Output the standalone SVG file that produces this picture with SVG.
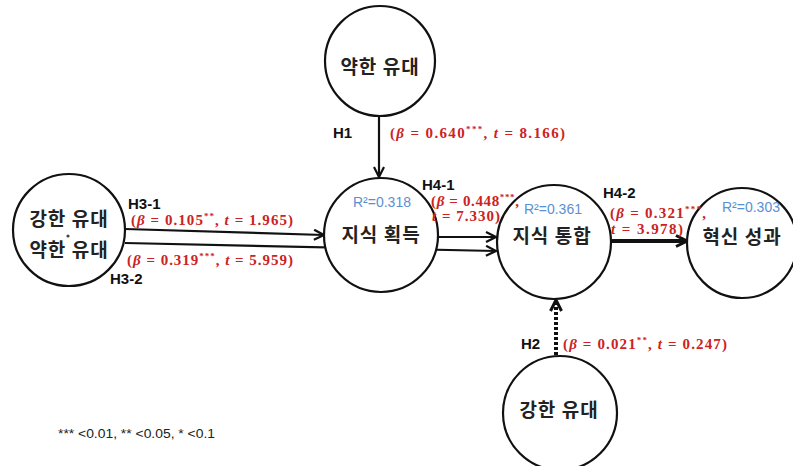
<svg xmlns="http://www.w3.org/2000/svg" width="793" height="466" viewBox="0 0 793 466">
<defs>
<style>
.node{fill:#fff;stroke:#111;stroke-width:2.2}
.lbl{font-family:"Noto Sans CJK KR","Noto Sans",sans-serif;font-weight:bold;font-size:19px;letter-spacing:1px;fill:#222;text-anchor:middle}
.h{font-family:"Liberation Sans",Arial,sans-serif;font-weight:bold;font-size:15px;fill:#111}
.red{font-family:"Liberation Serif","Times New Roman",serif;font-weight:bold;font-size:15px;fill:#cc2222}
.r2{font-family:"Liberation Sans",Arial,sans-serif;font-size:14px;fill:#5b8fd4}
.edge{stroke:#111;stroke-width:2.2;fill:none}
.sup{font-size:9px}
.foot{font-family:"Liberation Sans",Arial,sans-serif;font-size:12px;fill:#222}
</style>
<marker id="ah" viewBox="0 0 12 12" refX="11" refY="6" markerWidth="12" markerHeight="12" markerUnits="userSpaceOnUse" orient="auto">
<path d="M1,1 L11,6 L1,11" fill="none" stroke="#111" stroke-width="2.2"/>
</marker>
<marker id="ahb" viewBox="0 0 14 14" refX="12.5" refY="7" markerWidth="14" markerHeight="14" markerUnits="userSpaceOnUse" orient="auto">
<path d="M1.5,1.5 L12.5,7 L1.5,12.5" fill="none" stroke="#111" stroke-width="3"/>
</marker>
</defs>

<g id="connectors">
<line id="e-h1" class="edge" x1="379" y1="116" x2="379" y2="177" marker-end="url(#ah)"/>
<line id="e-h31" class="edge" x1="125" y1="229" x2="324" y2="235" marker-end="url(#ah)"/>
<line id="e-h32" class="edge" x1="125" y1="243" x2="496" y2="251" marker-end="url(#ah)"/>
<line id="e-h41" class="edge" x1="439" y1="237" x2="496" y2="237" marker-end="url(#ah)"/>
<line id="e-h42" class="edge" style="stroke-width:4" x1="612" y1="241" x2="687" y2="241" marker-end="url(#ahb)"/>
<line id="e-h2" class="edge" style="stroke-width:4;stroke-dasharray:3,2" x1="556" y1="355" x2="556" y2="300" marker-end="url(#ahb)"/>
</g>

<g id="n-weak-top">
<circle class="node" cx="380" cy="61" r="55"/>
<text class="lbl" x="380" y="74">약한 유대</text>
</g>
<g id="n-both">
<circle class="node" cx="69" cy="230" r="56"/>
<text class="lbl" x="69" y="226">강한 유대</text>
<text class="lbl" x="69" y="257">약한 유대</text>
<circle cx="68" cy="236" r="1.6" fill="#444"/>
</g>
<g id="n-acq">
<circle class="node" cx="381" cy="235" r="57"/>
<text class="lbl" x="381" y="242">지식 획득</text>
<text class="r2" x="353" y="207">R²=0.318</text>
</g>
<g id="n-int">
<circle class="node" cx="554" cy="242" r="57"/>
<text class="lbl" x="552" y="243">지식 통합</text>
<text class="r2" x="524" y="214">R²=0.361</text>
</g>
<g id="n-inno">
<circle class="node" cx="742" cy="243" r="55"/>
<text class="lbl" x="742" y="244">혁신 성과</text>
<text class="r2" x="722" y="212">R²=0.303</text>
</g>
<g id="n-strong-bot">
<circle class="node" cx="560" cy="413" r="57"/>
<text class="lbl" x="559" y="417">강한 유대</text>
</g>

<g id="labels">
<text class="h" x="333" y="138">H1</text>
<text class="red" x="390" y="138" textLength="175" lengthAdjust="spacing">(<tspan font-style="italic">β</tspan> = 0.640<tspan class="sup" dy="-6">***</tspan><tspan dy="6">, </tspan><tspan font-style="italic">t</tspan> = 8.166)</text>
<text class="h" x="128" y="209">H3-1</text>
<text class="red" x="131" y="225" textLength="162" lengthAdjust="spacing">(<tspan font-style="italic">β</tspan> = 0.105<tspan class="sup" dy="-6">**</tspan><tspan dy="6">, </tspan><tspan font-style="italic">t</tspan> = 1.965)</text>
<text class="red" x="127" y="265" textLength="166" lengthAdjust="spacing">(<tspan font-style="italic">β</tspan> = 0.319<tspan class="sup" dy="-6">***</tspan><tspan dy="6">, </tspan><tspan font-style="italic">t</tspan> = 5.959)</text>
<text class="h" x="110" y="284">H3-2</text>
<text class="h" x="422" y="190">H4-1</text>
<text class="red" x="431" y="206" textLength="88" lengthAdjust="spacing">(<tspan font-style="italic">β</tspan> = 0.448<tspan class="sup" dy="-6">***</tspan><tspan dy="6">,</tspan></text>
<text class="red" x="432" y="221" textLength="68" lengthAdjust="spacing"><tspan font-style="italic">t</tspan> = 7.330)</text>
<text class="h" x="603" y="198">H4-2</text>
<text class="red" x="610" y="218" textLength="96" lengthAdjust="spacing">(<tspan font-style="italic">β</tspan> = 0.321<tspan class="sup" dy="-6">***</tspan><tspan dy="6">,</tspan></text>
<text class="red" x="611" y="234" textLength="72" lengthAdjust="spacing"><tspan font-style="italic">t</tspan> = 3.978)</text>
<text class="h" x="521" y="349">H2</text>
<text class="red" x="563" y="349" textLength="164" lengthAdjust="spacing">(<tspan font-style="italic">β</tspan> = 0.021<tspan class="sup" dy="-6">**</tspan><tspan dy="6">, </tspan><tspan font-style="italic">t</tspan> = 0.247)</text>
<text class="foot" x="58" y="438" textLength="157" lengthAdjust="spacingAndGlyphs">*** &lt;0.01, ** &lt;0.05, * &lt;0.1</text>
</g>
</svg>
